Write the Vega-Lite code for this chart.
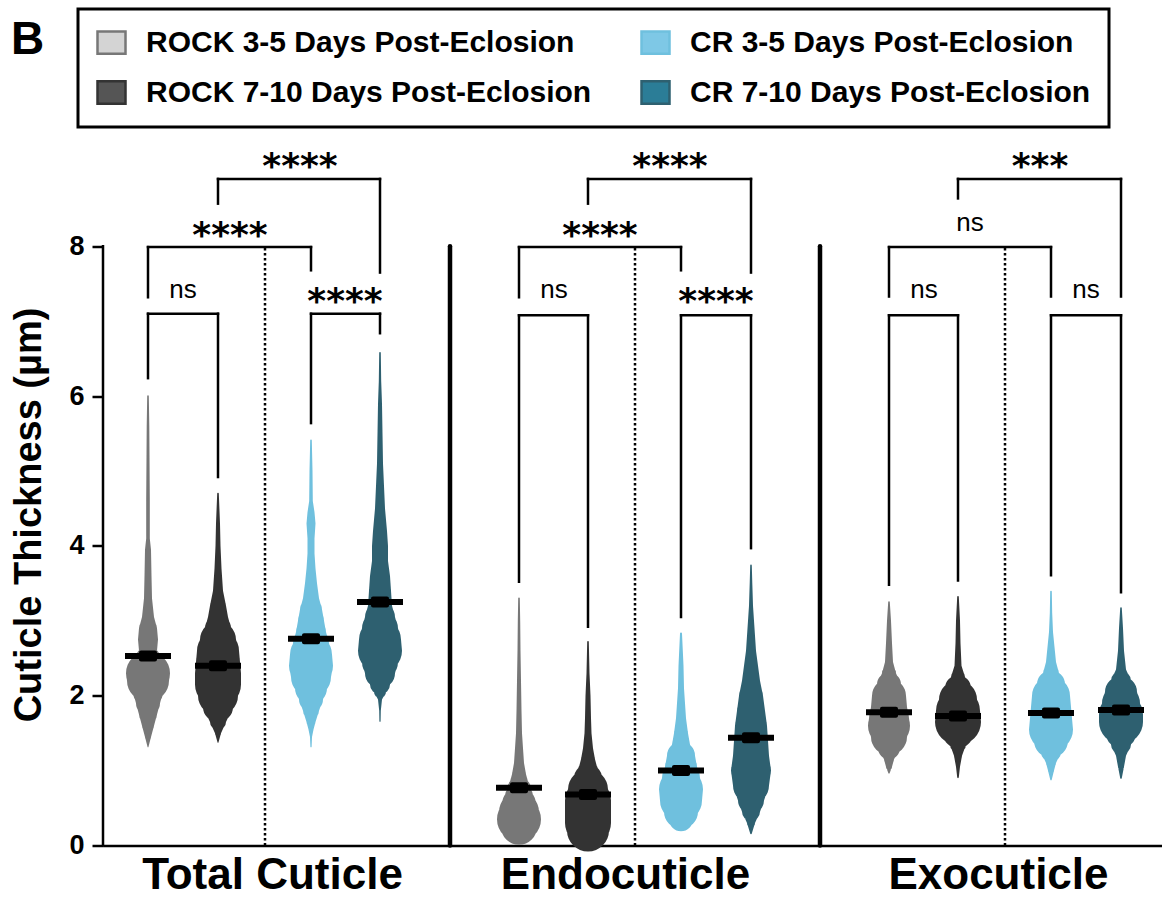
{
"$schema":"https://vega.github.io/schema/vega-lite/v6.json",
"autosize":{"type":"none"},
"width":1059,"height":704,
"padding":{"left":103,"top":141.5,"right":0,"bottom":51.5},
"background":"white",
"title":{"text":"B","anchor":"start","frame":"group","fontSize":46,"font":"Liberation Sans","fontWeight":"bold","color":"black","dx":-92,"offset":-56},
"config":{"view":{"stroke":null},"font":"Liberation Sans","axis":{"grid":false}},
"datasets":{
"groups":[
{"g":"T1","pos":45,"cond":"ROCK 3-5 Days Post-Eclosion","mean":2.53},
{"g":"T2","pos":115,"cond":"ROCK 7-10 Days Post-Eclosion","mean":2.40},
{"g":"T3","pos":208,"cond":"CR 3-5 Days Post-Eclosion","mean":2.76},
{"g":"T4","pos":277,"cond":"CR 7-10 Days Post-Eclosion","mean":3.25},
{"g":"N1","pos":416,"cond":"ROCK 3-5 Days Post-Eclosion","mean":0.77},
{"g":"N2","pos":485,"cond":"ROCK 7-10 Days Post-Eclosion","mean":0.68},
{"g":"N3","pos":578,"cond":"CR 3-5 Days Post-Eclosion","mean":1.00},
{"g":"N4","pos":648,"cond":"CR 7-10 Days Post-Eclosion","mean":1.44},
{"g":"X1","pos":786,"cond":"ROCK 3-5 Days Post-Eclosion","mean":1.78},
{"g":"X2","pos":855,"cond":"ROCK 7-10 Days Post-Eclosion","mean":1.73},
{"g":"X3","pos":948,"cond":"CR 3-5 Days Post-Eclosion","mean":1.77},
{"g":"X4","pos":1018,"cond":"CR 7-10 Days Post-Eclosion","mean":1.81}
],
"swarm":[
{"g":"T1","y":1.32,"w":1},{"g":"T1","y":1.45,"w":6},{"g":"T1","y":1.6,"w":12},{"g":"T1","y":1.75,"w":18},{"g":"T1","y":1.9,"w":24},{"g":"T1","y":2.05,"w":30},{"g":"T1","y":2.2,"w":42},{"g":"T1","y":2.3,"w":44},{"g":"T1","y":2.4,"w":34},{"g":"T1","y":2.5,"w":24},{"g":"T1","y":2.6,"w":18},{"g":"T1","y":2.75,"w":20},{"g":"T1","y":2.9,"w":18},{"g":"T1","y":3.05,"w":12},{"g":"T1","y":3.3,"w":8},{"g":"T1","y":3.6,"w":7},{"g":"T1","y":3.95,"w":6},{"g":"T1","y":4.1,"w":3.6},{"g":"T1","y":4.6,"w":3.6},{"g":"T1","y":5.2,"w":3},{"g":"T1","y":5.6,"w":2.6},{"g":"T1","y":6.0,"w":1.6},
{"g":"T2","y":1.38,"w":1},{"g":"T2","y":1.5,"w":6},{"g":"T2","y":1.65,"w":16},{"g":"T2","y":1.85,"w":30},{"g":"T2","y":2.0,"w":40},{"g":"T2","y":2.15,"w":46},{"g":"T2","y":2.3,"w":46},{"g":"T2","y":2.45,"w":44},{"g":"T2","y":2.6,"w":42},{"g":"T2","y":2.75,"w":36},{"g":"T2","y":2.9,"w":26},{"g":"T2","y":3.05,"w":20},{"g":"T2","y":3.2,"w":16},{"g":"T2","y":3.4,"w":10},{"g":"T2","y":3.7,"w":7},{"g":"T2","y":4.0,"w":5},{"g":"T2","y":4.3,"w":4},{"g":"T2","y":4.7,"w":1.6},
{"g":"T3","y":1.32,"w":1.2},{"g":"T3","y":1.45,"w":2},{"g":"T3","y":1.55,"w":5},{"g":"T3","y":1.65,"w":9},{"g":"T3","y":1.8,"w":16},{"g":"T3","y":1.95,"w":24},{"g":"T3","y":2.1,"w":32},{"g":"T3","y":2.25,"w":40},{"g":"T3","y":2.4,"w":44},{"g":"T3","y":2.55,"w":42},{"g":"T3","y":2.7,"w":36},{"g":"T3","y":2.85,"w":30},{"g":"T3","y":3.0,"w":26},{"g":"T3","y":3.15,"w":22},{"g":"T3","y":3.3,"w":16},{"g":"T3","y":3.5,"w":12},{"g":"T3","y":3.7,"w":9},{"g":"T3","y":3.9,"w":7},{"g":"T3","y":4.1,"w":7},{"g":"T3","y":4.3,"w":9},{"g":"T3","y":4.45,"w":7},{"g":"T3","y":4.6,"w":3.6},{"g":"T3","y":5.0,"w":3},{"g":"T3","y":5.41,"w":1.6},
{"g":"T4","y":1.66,"w":1.2},{"g":"T4","y":1.8,"w":1.6},{"g":"T4","y":1.95,"w":4},{"g":"T4","y":2.05,"w":12},{"g":"T4","y":2.15,"w":20},{"g":"T4","y":2.3,"w":30},{"g":"T4","y":2.45,"w":36},{"g":"T4","y":2.6,"w":44},{"g":"T4","y":2.75,"w":42},{"g":"T4","y":2.9,"w":36},{"g":"T4","y":3.05,"w":30},{"g":"T4","y":3.2,"w":24},{"g":"T4","y":3.4,"w":22},{"g":"T4","y":3.6,"w":20},{"g":"T4","y":3.8,"w":16},{"g":"T4","y":4.0,"w":16},{"g":"T4","y":4.2,"w":14},{"g":"T4","y":4.5,"w":10},{"g":"T4","y":4.8,"w":8},{"g":"T4","y":5.1,"w":6},{"g":"T4","y":5.5,"w":5},{"g":"T4","y":5.9,"w":4},{"g":"T4","y":6.2,"w":2.4},{"g":"T4","y":6.58,"w":1.6},
{"g":"N1","y":0.12,"w":2},{"g":"N1","y":0.18,"w":16},{"g":"N1","y":0.25,"w":36},{"g":"N1","y":0.35,"w":44},{"g":"N1","y":0.45,"w":40},{"g":"N1","y":0.55,"w":34},{"g":"N1","y":0.65,"w":28},{"g":"N1","y":0.75,"w":24},{"g":"N1","y":0.85,"w":18},{"g":"N1","y":0.95,"w":14},{"g":"N1","y":1.1,"w":10},{"g":"N1","y":1.3,"w":8},{"g":"N1","y":1.5,"w":6},{"g":"N1","y":1.8,"w":5},{"g":"N1","y":2.2,"w":4},{"g":"N1","y":2.6,"w":3},{"g":"N1","y":3.0,"w":2.4},{"g":"N1","y":3.3,"w":1.6},
{"g":"N2","y":0.08,"w":4},{"g":"N2","y":0.13,"w":28},{"g":"N2","y":0.2,"w":42},{"g":"N2","y":0.3,"w":46},{"g":"N2","y":0.45,"w":46},{"g":"N2","y":0.6,"w":46},{"g":"N2","y":0.75,"w":40},{"g":"N2","y":0.9,"w":28},{"g":"N2","y":1.0,"w":20},{"g":"N2","y":1.15,"w":14},{"g":"N2","y":1.3,"w":10},{"g":"N2","y":1.5,"w":7},{"g":"N2","y":1.7,"w":6},{"g":"N2","y":2.0,"w":5},{"g":"N2","y":2.3,"w":3},{"g":"N2","y":2.72,"w":1.6},
{"g":"N3","y":0.21,"w":2},{"g":"N3","y":0.27,"w":12},{"g":"N3","y":0.35,"w":24},{"g":"N3","y":0.45,"w":34},{"g":"N3","y":0.6,"w":42},{"g":"N3","y":0.75,"w":44},{"g":"N3","y":0.9,"w":38},{"g":"N3","y":1.05,"w":32},{"g":"N3","y":1.2,"w":28},{"g":"N3","y":1.35,"w":18},{"g":"N3","y":1.5,"w":14},{"g":"N3","y":1.7,"w":10},{"g":"N3","y":1.9,"w":8},{"g":"N3","y":2.1,"w":6},{"g":"N3","y":2.4,"w":5},{"g":"N3","y":2.83,"w":2},
{"g":"N4","y":0.16,"w":1.6},{"g":"N4","y":0.3,"w":8},{"g":"N4","y":0.45,"w":18},{"g":"N4","y":0.6,"w":26},{"g":"N4","y":0.8,"w":36},{"g":"N4","y":1.0,"w":40},{"g":"N4","y":1.2,"w":36},{"g":"N4","y":1.4,"w":34},{"g":"N4","y":1.6,"w":32},{"g":"N4","y":1.8,"w":28},{"g":"N4","y":2.0,"w":24},{"g":"N4","y":2.2,"w":18},{"g":"N4","y":2.4,"w":14},{"g":"N4","y":2.6,"w":10},{"g":"N4","y":2.8,"w":8},{"g":"N4","y":3.0,"w":6},{"g":"N4","y":3.2,"w":4},{"g":"N4","y":3.5,"w":2.6},{"g":"N4","y":3.74,"w":1.6},
{"g":"X1","y":0.97,"w":1.6},{"g":"X1","y":1.05,"w":6},{"g":"X1","y":1.15,"w":10},{"g":"X1","y":1.3,"w":22},{"g":"X1","y":1.45,"w":36},{"g":"X1","y":1.6,"w":42},{"g":"X1","y":1.7,"w":40},{"g":"X1","y":1.85,"w":36},{"g":"X1","y":2.0,"w":34},{"g":"X1","y":2.15,"w":24},{"g":"X1","y":2.3,"w":14},{"g":"X1","y":2.45,"w":8},{"g":"X1","y":2.7,"w":6},{"g":"X1","y":3.0,"w":4},{"g":"X1","y":3.25,"w":1.6},
{"g":"X2","y":0.91,"w":1.6},{"g":"X2","y":1.05,"w":4},{"g":"X2","y":1.2,"w":8},{"g":"X2","y":1.35,"w":16},{"g":"X2","y":1.5,"w":30},{"g":"X2","y":1.65,"w":46},{"g":"X2","y":1.8,"w":44},{"g":"X2","y":1.95,"w":38},{"g":"X2","y":2.1,"w":26},{"g":"X2","y":2.25,"w":14},{"g":"X2","y":2.4,"w":7},{"g":"X2","y":2.7,"w":5},{"g":"X2","y":3.0,"w":4},{"g":"X2","y":3.32,"w":1.6},
{"g":"X3","y":0.88,"w":1.6},{"g":"X3","y":1.0,"w":6},{"g":"X3","y":1.1,"w":10},{"g":"X3","y":1.25,"w":20},{"g":"X3","y":1.4,"w":34},{"g":"X3","y":1.55,"w":44},{"g":"X3","y":1.7,"w":42},{"g":"X3","y":1.85,"w":40},{"g":"X3","y":2.0,"w":38},{"g":"X3","y":2.15,"w":28},{"g":"X3","y":2.3,"w":16},{"g":"X3","y":2.45,"w":10},{"g":"X3","y":2.65,"w":7},{"g":"X3","y":2.85,"w":4},{"g":"X3","y":3.1,"w":2.4},{"g":"X3","y":3.39,"w":1.6},
{"g":"X4","y":0.9,"w":1.6},{"g":"X4","y":1.05,"w":6},{"g":"X4","y":1.2,"w":10},{"g":"X4","y":1.35,"w":20},{"g":"X4","y":1.5,"w":30},{"g":"X4","y":1.65,"w":44},{"g":"X4","y":1.75,"w":44},{"g":"X4","y":1.9,"w":38},{"g":"X4","y":2.05,"w":32},{"g":"X4","y":2.2,"w":20},{"g":"X4","y":2.35,"w":10},{"g":"X4","y":2.6,"w":6},{"g":"X4","y":2.9,"w":4},{"g":"X4","y":3.17,"w":1.6}
],
"vlines":[{"x":347,"kind":"sep"},{"x":717,"kind":"sep"},{"x":162,"kind":"dot"},{"x":532,"kind":"dot"},{"x":902,"kind":"dot"},{"x":0,"kind":"axis"}],
"brackets":[
{"xa":45,"xb":115,"top":7.10,"ya":6.24,"yb":4.92},
{"xa":208,"xb":277,"top":7.10,"ya":5.64,"yb":6.84},
{"xa":45,"xb":208,"top":7.99,"ya":7.32,"yb":7.68},
{"xa":115,"xb":277,"top":8.90,"ya":8.57,"yb":7.65},
{"xa":416,"xb":485,"top":7.08,"ya":3.52,"yb":2.92},
{"xa":578,"xb":648,"top":7.08,"ya":3.05,"yb":3.97},
{"xa":416,"xb":578,"top":7.99,"ya":7.32,"yb":7.68},
{"xa":485,"xb":648,"top":8.90,"ya":8.57,"yb":7.65},
{"xa":786,"xb":855,"top":7.08,"ya":3.48,"yb":3.54},
{"xa":948,"xb":1018,"top":7.08,"ya":3.61,"yb":3.38},
{"xa":786,"xb":948,"top":7.99,"ya":7.33,"yb":7.33},
{"xa":855,"xb":1018,"top":8.90,"ya":8.64,"yb":7.33}
],
"labels":[
{"lx":80,"ly":7.40,"label":"ns"},{"lx":242,"ly":7.37,"label":"****"},{"lx":127,"ly":8.25,"label":"****"},{"lx":197,"ly":9.17,"label":"****"},
{"lx":451,"ly":7.40,"label":"ns"},{"lx":613,"ly":7.37,"label":"****"},{"lx":497,"ly":8.25,"label":"****"},{"lx":567,"ly":9.17,"label":"****"},
{"lx":821,"ly":7.40,"label":"ns"},{"lx":983,"ly":7.40,"label":"ns"},{"lx":867,"ly":8.30,"label":"ns"},{"lx":937,"ly":9.17,"label":"***"}
]
},
"layer":[
{"data":{"name":"swarm"},
 "transform":[{"lookup":"g","from":{"data":{"name":"groups"},"key":"g","fields":["pos","cond"]}}],
 "mark":{"type":"trail"},
 "encoding":{
  "x":{"field":"pos","type":"quantitative","scale":{"domain":[0,1059],"nice":false,"zero":false},
   "axis":{"title":null,"values":[169,522,895],"labelExpr":"datum.value < 300 ? 'Total Cuticle' : datum.value < 700 ? 'Endocuticle' : 'Exocuticle'","ticks":false,"domain":true,"domainColor":"black","domainWidth":2.5,"labelFontSize":44,"labelFont":"Liberation Sans","labelFontWeight":"bold","labelColor":"black","labelBaseline":"alphabetic","labelPadding":42.5,"labelFlush":false,"labelOverlap":false,"labelLimit":500,"grid":false}},
  "y":{"field":"y","type":"quantitative","scale":{"domain":[0,9.4],"nice":false,"zero":false},
   "axis":{"title":"Cuticle Thickness (µm)","values":[0,2,4,6,8],"format":"d","domain":false,"ticks":true,"tickSize":11,"tickWidth":2.5,"tickColor":"black","labelFontSize":27,"labelFont":"Liberation Sans","labelFontWeight":"bold","labelColor":"black","labelPadding":8,"titleFontSize":38,"titleFont":"Liberation Sans","titleFontWeight":"bold","titleColor":"black","titlePadding":20,"titleY":373,"grid":false}},
  "order":{"field":"y","type":"quantitative"},
  "detail":{"field":"g","type":"nominal"},
  "size":{"field":"w","type":"quantitative","scale":{"type":"linear","domain":[0,46],"range":[0,46]},"legend":null},
  "color":{"field":"cond","type":"nominal","scale":{"domain":["ROCK 3-5 Days Post-Eclosion","ROCK 7-10 Days Post-Eclosion","CR 3-5 Days Post-Eclosion","CR 7-10 Days Post-Eclosion"],"range":["#777777","#333333","#6fc0de","#2e6070"]},
   "legend":{"title":null,"orient":"none","legendX":-25,"legendY":-132.5,"columns":2,"columnPadding":44,"rowPadding":17,"padding":18,"strokeColor":"black","symbolType":"M-1,-0.8H1V0.8H-1Z","symbolSize":784,"symbolStrokeColor":"black","symbolStrokeWidth":2.5,"symbolOpacity":1,"labelFontSize":30,"labelFont":"Liberation Sans","labelFontWeight":"bold","labelColor":"black","labelOffset":19,"labelLimit":700,
    "encode":{"legend":{"update":{"strokeWidth":{"value":3}}},"symbols":{"update":{"fill":{"signal":"datum.value == 'ROCK 3-5 Days Post-Eclosion' ? '#d4d4d4' : datum.value == 'CR 3-5 Days Post-Eclosion' ? '#7ec8e6' : datum.value == 'ROCK 7-10 Days Post-Eclosion' ? '#555555' : '#2b7d97'"},"stroke":{"value":"black"},"strokeWidth":{"value":2.5},"opacity":{"value":1},"shape":{"value":"M-1,-0.8H1V0.8H-1Z"},"size":{"value":784}}}}}}
 }},
{"data":{"name":"groups"},
 "mark":{"type":"tick","orient":"horizontal","size":46,"thickness":6,"color":"black","opacity":1},
 "encoding":{"x":{"field":"pos","type":"quantitative"},"y":{"field":"mean","type":"quantitative"}}},
{"data":{"name":"groups"},
 "mark":{"type":"tick","orient":"horizontal","size":18,"thickness":11,"color":"black","opacity":1,"cornerRadius":2},
 "encoding":{"x":{"field":"pos","type":"quantitative"},"y":{"field":"mean","type":"quantitative"}}},
{"data":{"name":"vlines"},"transform":[{"filter":"datum.kind == 'dot'"}],
 "mark":{"type":"rule","color":"black","strokeWidth":2.5,"strokeDash":[2.5,2.5]},
 "encoding":{"x":{"field":"x","type":"quantitative"},"y":{"datum":0,"type":"quantitative"},"y2":{"datum":8}}},
{"data":{"name":"vlines"},"transform":[{"filter":"datum.kind == 'sep'"}],
 "mark":{"type":"rule","color":"black","strokeWidth":4.5,"strokeCap":"round"},
 "encoding":{"x":{"field":"x","type":"quantitative"},"y":{"datum":0,"type":"quantitative"},"y2":{"datum":8}}},
{"data":{"name":"vlines"},"transform":[{"filter":"datum.kind == 'axis'"}],
 "mark":{"type":"rule","color":"black","strokeWidth":2.5,"strokeCap":"square"},
 "encoding":{"x":{"field":"x","type":"quantitative"},"y":{"datum":0,"type":"quantitative"},"y2":{"datum":8}}},
{"data":{"name":"brackets"},
 "mark":{"type":"rule","color":"black","strokeWidth":2.5,"strokeCap":"square"},
 "encoding":{"x":{"field":"xa","type":"quantitative"},"x2":{"field":"xb"},"y":{"field":"top","type":"quantitative"}}},
{"data":{"name":"brackets"},
 "mark":{"type":"rule","color":"black","strokeWidth":2.5,"strokeCap":"square"},
 "encoding":{"x":{"field":"xa","type":"quantitative"},"y":{"field":"top","type":"quantitative"},"y2":{"field":"ya"}}},
{"data":{"name":"brackets"},
 "mark":{"type":"rule","color":"black","strokeWidth":2.5,"strokeCap":"square"},
 "encoding":{"x":{"field":"xb","type":"quantitative"},"y":{"field":"top","type":"quantitative"},"y2":{"field":"yb"}}},
{"data":{"name":"labels"},"transform":[{"filter":"datum.label != 'ns'"}],
 "mark":{"type":"text","font":"DejaVu Sans","fontWeight":"bold","fontSize":36,"color":"black","baseline":"middle","align":"center","dy":8},
 "encoding":{"x":{"field":"lx","type":"quantitative"},"y":{"field":"ly","type":"quantitative"},"text":{"field":"label"}}},
{"data":{"name":"labels"},"transform":[{"filter":"datum.label == 'ns'"}],
 "mark":{"type":"text","font":"Liberation Sans","fontSize":26,"color":"black","baseline":"middle","align":"center","dy":-1},
 "encoding":{"x":{"field":"lx","type":"quantitative"},"y":{"field":"ly","type":"quantitative"},"text":{"field":"label"}}}
]
}
